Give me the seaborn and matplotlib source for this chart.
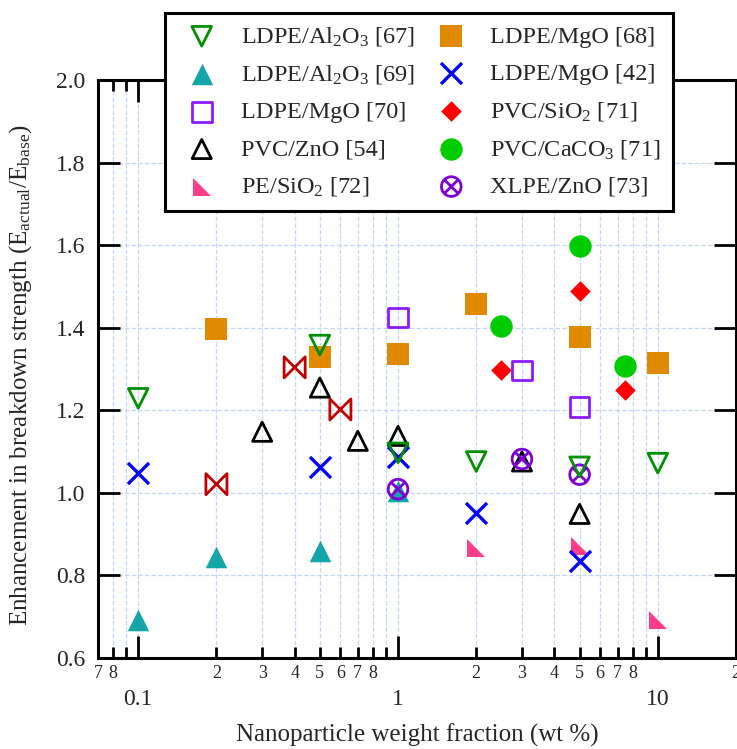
import matplotlib
matplotlib.use('Agg')
import matplotlib.pyplot as plt
from matplotlib.path import Path
from matplotlib.ticker import LogLocator, FixedLocator, FuncFormatter, MultipleLocator
import numpy as np
import seaborn as sns

# --- data ---
ldpe_al2o3_67_x = [0.1, 0.5, 1, 2, 5, 10]
ldpe_al2o3_67_y = [1.229, 1.358, 1.097, 1.076, 1.063, 1.072]

ldpe_mgo_68_x = [0.2, 0.5, 1, 2, 5, 10]
ldpe_mgo_68_y = [1.397, 1.328, 1.336, 1.457, 1.378, 1.315]

ldpe_al2o3_69_x = [0.1, 0.2, 0.5, 1]
ldpe_al2o3_69_y = [0.692, 0.845, 0.858, 1.005]

ldpe_mgo_42_x = [0.1, 0.5, 1, 2, 5]
ldpe_mgo_42_y = [1.047, 1.062, 1.088, 0.952, 0.834]

ldpe_mgo_70_x = [1, 3, 5]
ldpe_mgo_70_y = [1.425, 1.296, 1.208]

pvc_sio2_71_x = [2.5, 5, 7.5]
pvc_sio2_71_y = [1.298, 1.49, 1.249]

pvc_zno_54_x = [0.3, 0.5, 0.7, 1, 3, 5]
pvc_zno_54_y = [1.148, 1.255, 1.126, 1.138, 1.076, 0.949]

pvc_caco3_71_x = [2.5, 5, 7.5]
pvc_caco3_71_y = [1.403, 1.597, 1.308]

pe_sio2_72_x = [2, 5, 10]
pe_sio2_72_y = [0.866, 0.871, 0.693]

xlpe_zno_73_x = [1, 3, 5]
xlpe_zno_73_y = [1.009, 1.082, 1.044]

bowtie_x = [0.2, 0.4, 0.6]
bowtie_y = [1.021, 1.304, 1.202]

# --- custom marker shapes ---
bowtie = Path([(-1, 1), (1, -1), (1, 1), (-1, -1), (-1, 1)],
              [Path.MOVETO, Path.LINETO, Path.LINETO, Path.LINETO, Path.CLOSEPOLY])
corner_tri = Path([(-1, 1), (-1, -1), (1, -1), (-1, 1)],
                  [Path.MOVETO, Path.LINETO, Path.LINETO, Path.CLOSEPOLY])
d = 0.68
circle_x = Path.make_compound_path(
    Path.unit_circle(),
    Path([(-d, -d), (d, d)], [Path.MOVETO, Path.LINETO]),
    Path([(-d, d), (d, -d)], [Path.MOVETO, Path.LINETO]),
)

sns.set_style('ticks')
plt.rcParams['font.family'] = ['Liberation Serif', 'DejaVu Serif']
plt.rcParams['mathtext.fontset'] = 'custom'
plt.rcParams['mathtext.rm'] = 'Liberation Serif'
plt.rcParams['mathtext.it'] = 'Liberation Serif:italic'
plt.rcParams['mathtext.bf'] = 'Liberation Serif:bold'

fig = plt.figure(figsize=(7.37, 7.49), dpi=100)
ax = fig.add_axes([98 / 737, 1 - 658 / 749, (736 - 98) / 737, (658 - 80) / 749])

# (label, x, y, marker, size, face, edge, lw)
series = [
    ('LDPE/Al$_2$O$_3$ [69]', ldpe_al2o3_69_x, ldpe_al2o3_69_y, '^', 240, '#13a5a8', '#13a5a8', 0),
    ('LDPE/MgO [68]', ldpe_mgo_68_x, ldpe_mgo_68_y, 's', 250, '#e08a00', '#e08a00', 0),
    ('PVC/CaCO$_3$ [71]', pvc_caco3_71_x, pvc_caco3_71_y, 'o', 260, '#00cc00', '#00cc00', 0),
    ('PVC/SiO$_2$ [71]', pvc_sio2_71_x, pvc_sio2_71_y, 'D', 110, '#ff0000', '#ff0000', 0),
    ('PE/SiO$_2$ [72]', pe_sio2_72_x, pe_sio2_72_y, corner_tri, 150, '#ff3d8b', '#ff3d8b', 0),
    ('PVC/ZnO [54]', pvc_zno_54_x, pvc_zno_54_y, '^', 190, 'none', 'black', 2.0),
    ('LDPE/MgO [70]', ldpe_mgo_70_x, ldpe_mgo_70_y, 's', 200, 'none', '#8c1aff', 2.0),
    ('XLPE/ZnO [73]', xlpe_zno_73_x, xlpe_zno_73_y, circle_x, 200, 'none', '#7f00d4', 2.0),
    ('LDPE/MgO [42]', ldpe_mgo_42_x, ldpe_mgo_42_y, 'x', 230, '#0000ff', '#0000ff', 2.4),
    ('LDPE/Al$_2$O$_3$ [67]', ldpe_al2o3_67_x, ldpe_al2o3_67_y, 'v', 200, 'none', '#008f00', 2.0),
    ('_bowtie', bowtie_x, bowtie_y, bowtie, 230, 'none', '#c00000', 2.0),
]

for label, xs, ys, marker, size, face, edge, lw in series:
    sns.scatterplot(x=xs, y=ys, ax=ax, marker=marker, s=size, facecolor=face,
                    edgecolor=edge, linewidth=lw, label=label, legend=False,
                    zorder=3, clip_on=False)

ax.set_xscale('log')
ax.set_xlim(0.07, 20)
ax.set_ylim(0.6, 2.0)

ax.xaxis.set_major_locator(FixedLocator([0.1, 1, 10]))
ax.xaxis.set_major_formatter(FuncFormatter(lambda v, p: '%g' % v))
ax.xaxis.set_minor_locator(LogLocator(base=10, subs=np.arange(2, 10)))


def minor_fmt(v, pos):
    lead = int(round(v / 10 ** np.floor(np.log10(v) + 1e-9)))
    return '' if lead == 9 else str(lead)


ax.xaxis.set_minor_formatter(FuncFormatter(minor_fmt))
ax.yaxis.set_major_locator(MultipleLocator(0.2))
ax.yaxis.set_major_formatter(FuncFormatter(lambda v, p: '%.1f' % v))

ax.tick_params(which='both', direction='in', top=True, right=True, width=2.0, color='black')
ax.tick_params(which='major', length=16)
ax.tick_params(which='minor', length=8)
ax.tick_params(axis='x', which='major', labelsize=17, pad=22)
ax.tick_params(axis='x', which='minor', labelsize=13, pad=5)
ax.tick_params(axis='y', which='major', labelsize=17, pad=9)
for s in ax.spines.values():
    s.set_linewidth(2.2)
    s.set_color('black')

ax.grid(True, which='both', axis='x', color='#c4d6f5', linestyle='--', linewidth=0.9, zorder=0)
ax.grid(True, which='major', axis='y', color='#c4d6f5', linestyle='--', linewidth=0.9, zorder=0)
ax.set_axisbelow(True)

ax.set_xlabel('Nanoparticle weight fraction (wt %)', fontsize=18, labelpad=10)
ax.set_ylabel(r'Enhancement in breakdown strength (E$_{\mathrm{actual}}$/E$_{\mathrm{base}}$)',
              fontsize=18)
ax.yaxis.set_label_coords(-0.1, 0.49)

handles, labels = ax.get_legend_handles_labels()
lookup = dict(zip(labels, handles))
order = ['LDPE/Al$_2$O$_3$ [67]', 'LDPE/Al$_2$O$_3$ [69]', 'LDPE/MgO [70]', 'PVC/ZnO [54]', 'PE/SiO$_2$ [72]',
         'LDPE/MgO [68]', 'LDPE/MgO [42]', 'PVC/SiO$_2$ [71]', 'PVC/CaCO$_3$ [71]', 'XLPE/ZnO [73]']
leg = fig.legend([lookup[k] for k in order], order, loc='upper center',
                 bbox_to_anchor=(419 / 737, 1 - 13 / 749), ncol=2, fontsize=17.5,
                 frameon=True, fancybox=False, framealpha=1, edgecolor='black',
                 labelspacing=0.62, columnspacing=0.5, handletextpad=0.6,
                 borderpad=0.5, borderaxespad=0, scatterpoints=1)
leg.get_frame().set_linewidth(2.2)

fig.savefig('out.png', dpi=100)
